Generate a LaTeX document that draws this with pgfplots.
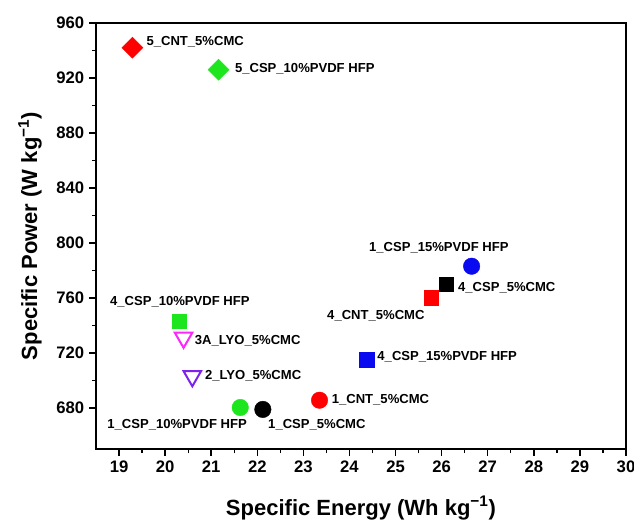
\documentclass[border=0pt]{standalone}
\usepackage{fontspec}
\setmainfont{Liberation Sans}
\usepackage{pgfplots}
\pgfplotsset{compat=1.18}
\definecolor{cred}{RGB}{255,0,0}
\definecolor{cgreen}{RGB}{30,230,30}
\definecolor{cblue}{RGB}{10,10,240}
\definecolor{cmag}{RGB}{250,40,250}
\definecolor{cpur}{RGB}{125,35,235}
\tikzset{lbl/.style={anchor=west, inner sep=0pt, font=\fontsize{9.8}{11}\selectfont\bfseries}}
\begin{document}
\begin{tikzpicture}
\useasboundingbox (-72pt,-54.75pt) rectangle (403.5pt,336.75pt);
\begin{axis}[at={(0,0)}, anchor=south west, scale only axis,
 width=397.5pt, height=319.5pt,
 xmin=18.5, xmax=30, ymin=650, ymax=960,
 xtick={19,20,...,30}, ytick={680,720,...,960},
 minor x tick num=1, minor y tick num=1,
 tick align=outside, tick pos=left,
 major tick length=5pt, minor tick length=3pt,
 every axis/.append style={line width=1.2pt},
 major tick style={line width=1.1pt, black},
 minor tick style={line width=1pt, black},
 /pgf/number format/assume math mode=true,
 ticklabel style={font=\fontsize{12.5}{14}\selectfont\bfseries},
 xlabel={Specific Energy (Wh kg\textsuperscript{−1})},
 ylabel={Specific Power (W kg\textsuperscript{−1})},
 label style={font=\fontsize{16.5}{20}\selectfont\bfseries},
 xlabel style={at={(axis description cs:0.5,-0.1385)}, anchor=center},
 ylabel style={at={(axis description cs:-0.1245,0.5)}, anchor=center},
 clip=false,
 dia/.style={only marks, mark=square*, mark size=5.6pt, mark options={rotate=45, line width=0.3pt}},
 sq/.style={only marks, mark=square*, mark size=5.4pt, mark options={line width=0.3pt}},
 ci/.style={only marks, mark=*, mark size=6.2pt, mark options={line width=0.3pt}},
 tri/.style={only marks, mark=triangle, mark size=7.6pt, mark options={rotate=180, line width=1.5pt, fill=none}},
]
% diamonds
\addplot[dia, color=cred] coordinates {(19.29,942)};
\addplot[dia, color=cgreen] coordinates {(21.16,926)};
% squares
\addplot[sq, color=cgreen] coordinates {(20.31,743)};
\addplot[sq, color=cblue] coordinates {(24.37,715)};
\addplot[sq, color=cred] coordinates {(25.77,760)};
\addplot[sq, color=black] coordinates {(26.10,770)};
% circles
\addplot[ci, color=cblue] coordinates {(26.65,783)};
\addplot[ci, color=cred] coordinates {(23.35,685.5)};
\addplot[ci, color=cgreen] coordinates {(21.63,680.2)};
\addplot[ci, color=black] coordinates {(22.12,678.8)};
% triangles
\addplot[tri, color=cmag] coordinates {(20.40,731)};
\addplot[tri, color=cpur] coordinates {(20.59,703)};
% labels
\node[lbl] at (axis cs:19.58,946.5) {5\_CNT\_5\%CMC};
\node[lbl] at (axis cs:21.50,927) {5\_CSP\_10\%PVDF HFP};
\node[lbl] at (axis cs:24.41,796.4) {1\_CSP\_15\%PVDF HFP};
\node[lbl] at (axis cs:26.34,767.5) {4\_CSP\_5\%CMC};
\node[lbl] at (axis cs:23.50,747) {4\_CNT\_5\%CMC};
\node[lbl] at (axis cs:24.59,716.9) {4\_CSP\_15\%PVDF HFP};
\node[lbl] at (axis cs:18.79,757.1) {4\_CSP\_10\%PVDF HFP};
\node[lbl] at (axis cs:20.63,728.9) {3A\_LYO\_5\%CMC};
\node[lbl] at (axis cs:20.85,703.6) {2\_LYO\_5\%CMC};
\node[lbl] at (axis cs:18.73,667.4) {1\_CSP\_10\%PVDF HFP};
\node[lbl] at (axis cs:22.22,667.4) {1\_CSP\_5\%CMC};
\node[lbl] at (axis cs:23.60,685.5) {1\_CNT\_5\%CMC};
\end{axis}
\end{tikzpicture}
\end{document}
